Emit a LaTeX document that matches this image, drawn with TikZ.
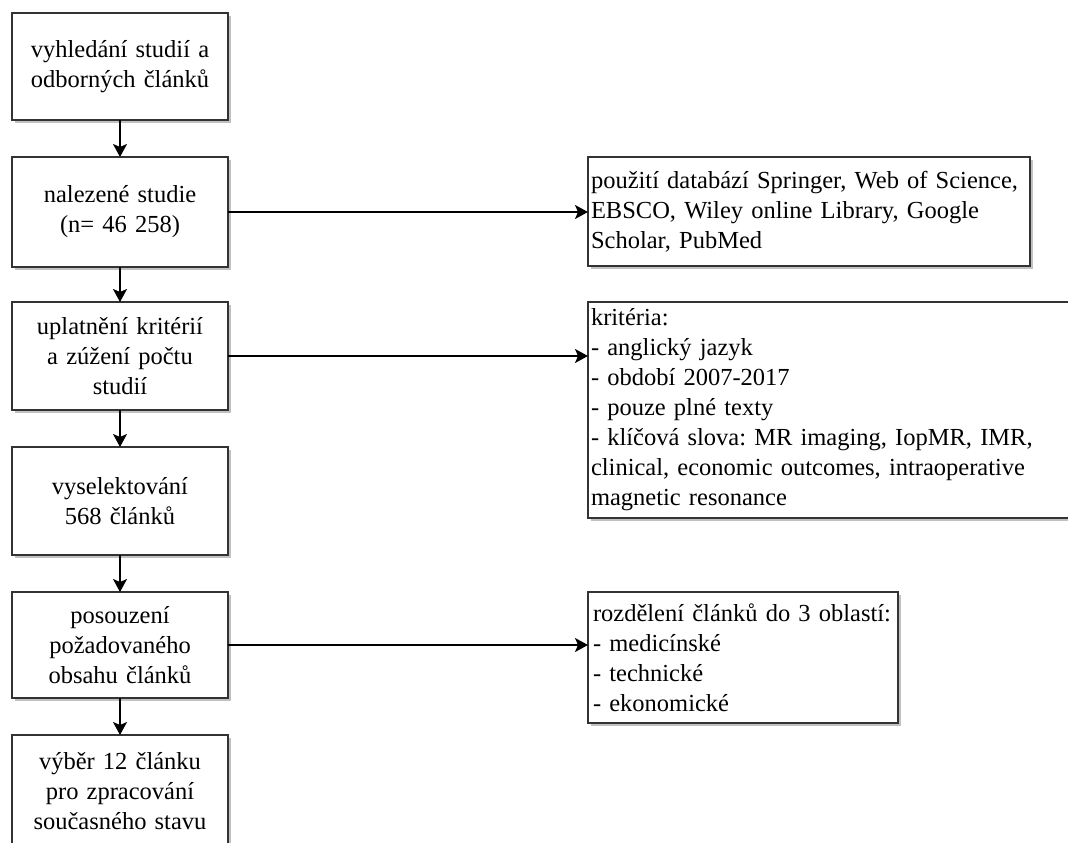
\documentclass[tikz,border=0pt]{standalone}
\usepackage{fontspec}
\setmainfont{Liberation Serif}
\usetikzlibrary{arrows.meta,shadows,calc}
\frenchspacing
\begin{document}
\begin{tikzpicture}[x=1pt,y=-1pt,
  every node/.style={font=\fontsize{24.5}{30}\selectfont},
  box/.style={draw=black!80, line width=1.8pt, fill=white, inner sep=0pt, outer sep=0pt,
    drop shadow={shadow xshift=3pt, shadow yshift=-3pt, opacity=0.4, fill=black!60}},
  lbox/.style={box, minimum width=216pt, text width=212pt, align=center},
  rbox/.style={box, anchor=north west, align=left, inner xsep=2pt},
  conn/.style={line width=1.6pt, -{Stealth[length=13pt,width=14pt,inset=3pt]}}]
\useasboundingbox (0,0) rectangle (1068,843);
\fill[white] (0,0) rectangle (1068,843);
\node[lbox, minimum height=107pt] (b1) at (120,66.5) {vyhledání studií a\\odborných článků\\[4pt]};
\node[lbox, minimum height=110pt] (b2) at (120,212) {nalezené studie\\(n= 46 258)};
\node[lbox, minimum height=108pt] (b3) at (120,356) {uplatnění kritérií\\a zúžení počtu\\studií};
\node[lbox, minimum height=108pt] (b4) at (120,501) {vyselektování\\568 článků};
\node[lbox, minimum height=106pt] (b5) at (120,645) {posouzení\\požadovaného\\obsahu článků};
\node[lbox, minimum height=112pt] (b6) at (120,791) {výběr 12 článku\\pro zpracování\\současného stavu};
\node[rbox, minimum width=442pt, minimum height=109pt, text width=436pt] (r1) at (588,157)
  {použití databází Springer, Web of Science,\\EBSCO, Wiley online Library, Google\\Scholar, PubMed};
\node[rbox, minimum width=492pt, minimum height=216pt, text width=486pt] (r2) at (588,302)
  {kritéria:\\- anglický jazyk\\- období 2007-2017\\- pouze plné texty\\- klíčová slova: MR imaging, IopMR, IMR,\\clinical, economic outcomes, intraoperative\\magnetic resonance};
\node[rbox, minimum width=310pt, minimum height=131pt, text width=300pt, inner xsep=5pt] (r3) at (588,592)
  {rozdělení článků do 3 oblastí:\\- medicínské\\- technické\\- ekonomické};
\draw[conn] (b1.south) -- (b2.north);
\draw[conn] (b2.south) -- (b3.north);
\draw[conn] (b3.south) -- (b4.north);
\draw[conn] (b4.south) -- (b5.north);
\draw[conn] (b5.south) -- (b6.north);
\draw[conn] (b2.east) -- (b2.east -| r1.west);
\draw[conn] (b3.east) -- (b3.east -| r2.west);
\draw[conn] (b5.east) -- (b5.east -| r3.west);
\end{tikzpicture}
\end{document}
